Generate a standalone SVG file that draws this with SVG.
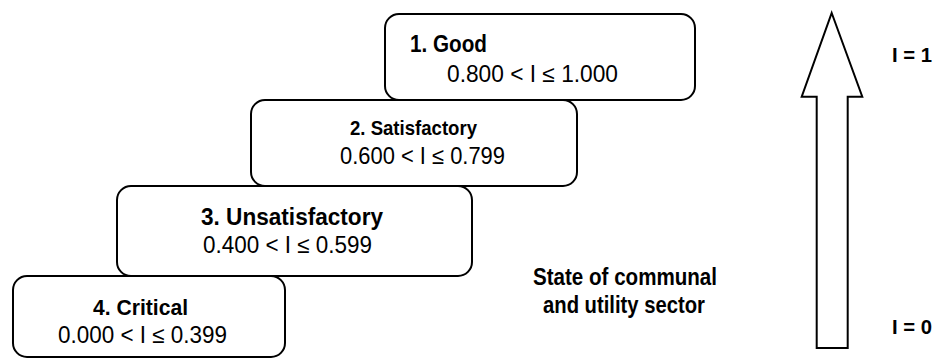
<svg xmlns="http://www.w3.org/2000/svg" width="933" height="360" viewBox="0 0 933 360">
<style>
.box{fill:#fff;stroke:#000;stroke-width:2}
.t{font-family:"Liberation Sans Narrow","Liberation Sans",Arial,sans-serif;fill:#000}
.b{font-weight:bold;font-size:23px}
.n{font-size:23.5px}
.arrow{fill:#fff;stroke:#000;stroke-width:2;stroke-linejoin:miter}
</style>
<rect width="933" height="360" fill="#fff"/>
<g id="node4">
<rect class="box" x="13" y="276" width="272" height="81" rx="14"/>
<text class="t b" x="93" y="315" style="font-size:22.5px" textLength="95" lengthAdjust="spacingAndGlyphs">4. Critical</text>
<text class="t n" x="58" y="343" textLength="169" lengthAdjust="spacingAndGlyphs">0.000 &lt; I ≤ 0.399</text>
</g>
<g id="node3">
<rect class="box" x="117" y="186" width="355" height="90" rx="14"/>
<text class="t b" x="201" y="225" style="font-size:23.5px" textLength="182" lengthAdjust="spacingAndGlyphs">3. Unsatisfactory</text>
<text class="t n" x="203" y="253" textLength="169" lengthAdjust="spacingAndGlyphs">0.400 &lt; I ≤ 0.599</text>
</g>
<g id="node2">
<rect class="box" x="251" y="100" width="326" height="86" rx="14"/>
<text class="t b" x="350" y="135" style="font-size:21px" textLength="127" lengthAdjust="spacingAndGlyphs">2. Satisfactory</text>
<text class="t n" x="340" y="164" textLength="165" lengthAdjust="spacingAndGlyphs">0.600 &lt; I ≤ 0.799</text>
</g>
<g id="node1">
<rect class="box" x="385" y="14" width="310" height="86" rx="14"/>
<text class="t b" x="410" y="52" style="font-size:23.5px" textLength="77" lengthAdjust="spacingAndGlyphs">1. Good</text>
<text class="t n" x="447" y="82" textLength="171" lengthAdjust="spacingAndGlyphs">0.800 &lt; I ≤ 1.000</text>
</g>
<g id="caption">
<text class="t b" x="533" y="285" textLength="184" lengthAdjust="spacingAndGlyphs">State of communal</text>
<text class="t b" x="543" y="313" textLength="162" lengthAdjust="spacingAndGlyphs">and utility sector</text>
</g>
<g id="connectors">
<path class="arrow" d="M831.7,13 L862.3,96.7 L847.7,96.7 L847.7,348 L816.7,348 L816.7,96.7 L801.7,96.7 Z"/>
</g>
<g id="labels">
<text class="t b" x="892" y="62" style="font-size:21px" textLength="40" lengthAdjust="spacingAndGlyphs">I = 1</text>
<text class="t b" x="892" y="334" style="font-size:21px" textLength="40" lengthAdjust="spacingAndGlyphs">I = 0</text>
</g>
</svg>
